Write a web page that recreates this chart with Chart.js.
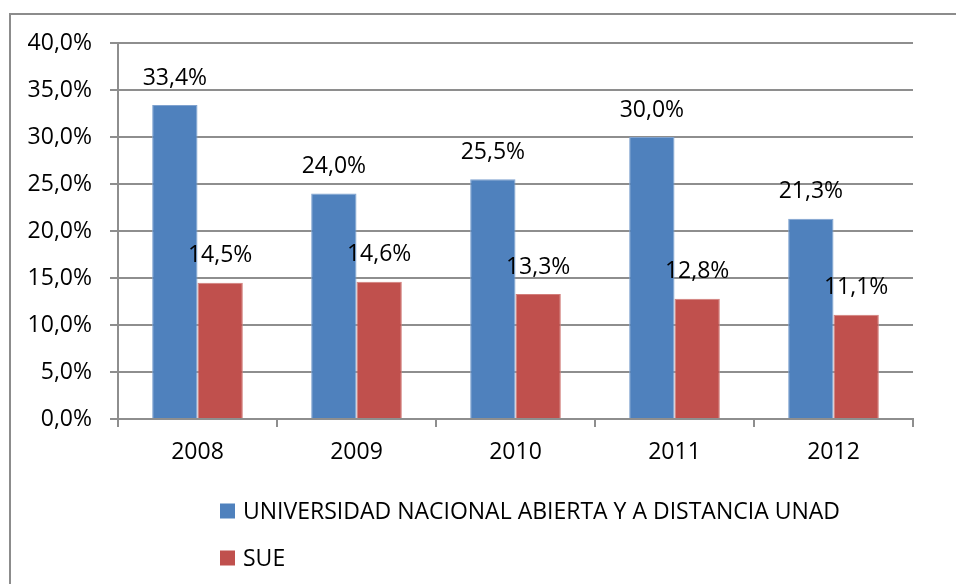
<!DOCTYPE html>
<html>
<head>
<meta charset="utf-8">
<script src="https://cdn.jsdelivr.net/npm/chart.js@4.4.0/dist/chart.umd.min.js"></script>
<style>
    html, body { margin: 0; padding: 0; background: #fff; overflow: hidden; }
    #wrap { position: relative; width: 956px; height: 584px; overflow: hidden; }
    #frame { position: absolute; left: 9px; top: 13px; width: 1000px; height: 700px; border: 2px solid #8c8c8c; box-sizing: border-box; }
    canvas { position: absolute; left: 0; top: 0; }
</style>
</head>
<body>
<div id="wrap">
    <div id="frame"></div>
    <canvas id="chart" width="956" height="584"></canvas>
</div>
<script>
// Data
const years = ['2008', '2009', '2010', '2011', '2012'];
const unadValues = [33.4, 24.0, 25.5, 30.0, 21.3];
const sueValues = [14.5, 14.6, 13.3, 12.8, 11.1];
const seriesNames = ['UNIVERSIDAD NACIONAL ABIERTA Y A DISTANCIA UNAD', 'SUE'];
const yMin = 0;
const yMax = 40;
const yStep = 5;

const FONT_FAMILY = '"Open Sans", sans-serif';
const FONT_SIZE = 23;
const GRID_COLOR = '#8e8e8e';

function pct(v) {
    return v.toFixed(1).replace('.', ',') + '%';
}

// value labels above each bar
const valueLabels = {
    id: 'valueLabels',
    afterDatasetsDraw(chart) {
        const ctx = chart.ctx;
        ctx.save();
        ctx.font = FONT_SIZE + 'px ' + FONT_FAMILY;
        ctx.fillStyle = '#000';
        ctx.textAlign = 'center';
        ctx.textBaseline = 'middle';
        chart.data.datasets.forEach((ds, i) => {
            chart.getDatasetMeta(i).data.forEach((bar, j) => {
                ctx.fillText(pct(ds.data[j]), bar.x, bar.y - 27);
            });
        });
        ctx.restore();
    }
};

// legend stacked one item per row under the axis
const stackedLegend = {
    id: 'stackedLegend',
    afterDraw(chart) {
        const ctx = chart.ctx;
        ctx.save();
        ctx.font = FONT_SIZE + 'px ' + FONT_FAMILY;
        ctx.textAlign = 'left';
        ctx.textBaseline = 'middle';
        chart.data.datasets.forEach((ds, i) => {
            const y = 511 + i * 47;
            ctx.fillStyle = ds.backgroundColor;
            ctx.fillRect(220, y - 7.5, 15, 15);
            ctx.fillStyle = '#000';
            ctx.fillText(ds.label, 243, y + 1);
        });
        ctx.restore();
    }
};

const ctx = document.getElementById('chart').getContext('2d');
new Chart(ctx, {
    type: 'bar',
    data: {
        labels: years,
        datasets: [
            {
                label: seriesNames[0],
                data: unadValues,
                backgroundColor: '#4F81BD',
                borderColor: '#7FA2CF',
                borderWidth: 1
            },
            {
                label: seriesNames[1],
                data: sueValues,
                backgroundColor: '#C0504D',
                borderColor: '#D27D7A',
                borderWidth: 1
            }
        ]
    },
    options: {
        responsive: false,
        animation: false,
        categoryPercentage: 0.57,
        barPercentage: 1.0,
        layout: {
            padding: { left: 0, top: 43, right: 43, bottom: 0 }
        },
        plugins: {
            legend: { display: false },
            tooltip: { enabled: false }
        },
        scales: {
            x: {
                afterFit(scale) { scale.height = 165; },
                grid: {
                    display: true,
                    drawOnChartArea: false,
                    drawTicks: true,
                    tickLength: 8,
                    color: GRID_COLOR,
                    lineWidth: 2
                },
                border: { display: true, color: GRID_COLOR, width: 2 },
                ticks: {
                    color: '#000',
                    padding: 12,
                    font: { family: FONT_FAMILY, size: FONT_SIZE }
                }
            },
            y: {
                min: yMin,
                max: yMax,
                afterFit(scale) { scale.width = 118; },
                grid: {
                    color: GRID_COLOR,
                    lineWidth: 2,
                    tickLength: 8
                },
                border: { display: true, color: GRID_COLOR, width: 2 },
                ticks: {
                    stepSize: yStep,
                    color: '#000',
                    padding: 18,
                    font: { family: FONT_FAMILY, size: FONT_SIZE },
                    callback: v => pct(v)
                }
            }
        }
    },
    plugins: [valueLabels, stackedLegend]
});
</script>
</body>
</html>
